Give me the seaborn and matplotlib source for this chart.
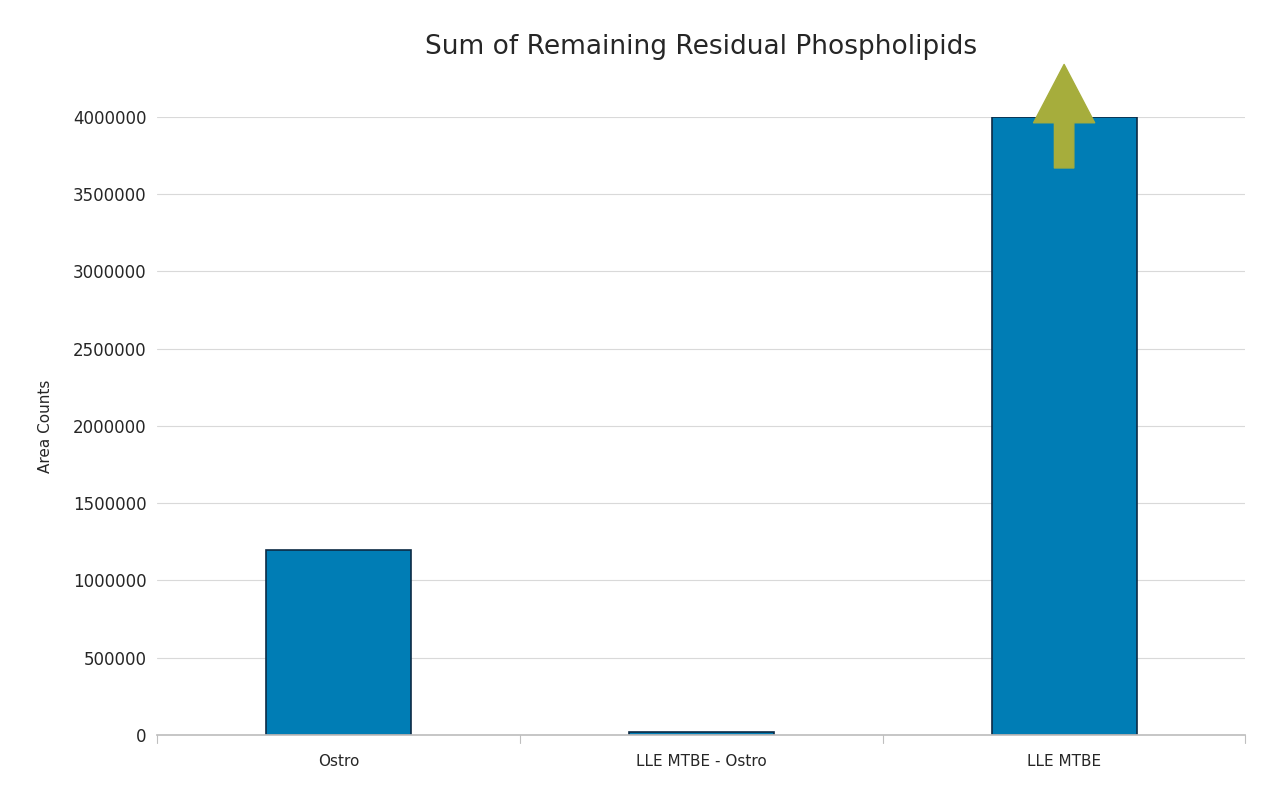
import matplotlib.pyplot as plt
import seaborn as sns
import pandas as pd

categories = ["Ostro", "LLE MTBE - Ostro", "LLE MTBE"]
area_counts = [1200000, 20000, 4000000]
y_ticks = [0, 500000, 1000000, 1500000, 2000000, 2500000, 3000000, 3500000, 4000000]

sns.set_theme(style="white")
plt.rcParams["font.family"] = ["DejaVu Sans"]

df = pd.DataFrame({"cat": categories, "val": area_counts})

fig = plt.figure(figsize=(12.8, 8.1), dpi=100)
ax = fig.add_axes([0.123, 0.0926, 0.850, 0.763])
sns.barplot(data=df, x="cat", y="val", color="#007db5", saturation=1,
            width=0.4, edgecolor="#0d2b45", linewidth=1.2, ax=ax)

ax.set_ylim(0, 4000000)
ax.set_xlim(-0.5, 2.5)
ax.set_yticks(y_ticks)
ax.set_yticklabels([str(v) for v in y_ticks], fontsize=12)
ax.yaxis.grid(True, color="#d9d9d9", linewidth=0.8)
ax.set_axisbelow(True)
for s in ["top", "right", "left"]:
    ax.spines[s].set_visible(False)
ax.spines["bottom"].set_color("#bfbfbf")
ax.set_xticks([0, 1, 2])
ax.set_xticklabels(categories, fontsize=11)
ax.tick_params(axis="x", length=0, pad=14)
ax.tick_params(axis="y", length=0, pad=8)
for b in [-0.5, 0.5, 1.5, 2.5]:
    ax.plot([b, b], [0, -50000], color="#bfbfbf", lw=0.8, clip_on=False)
ax.set_xlabel("")
ax.set_ylabel("Area Counts", fontsize=11, labelpad=14)
ax.set_title("Sum of Remaining Residual Phospholipids", fontsize=19, pad=45)

# upward arrow on top of LLE MTBE bar
ax.annotate("", xy=(2, 4340000), xytext=(2, 3670000),
            arrowprops=dict(facecolor="#a6ad3c", edgecolor="#a6ad3c",
                            width=14, headwidth=44, headlength=42),
            annotation_clip=False)

fig.savefig("out.png", dpi=100)
